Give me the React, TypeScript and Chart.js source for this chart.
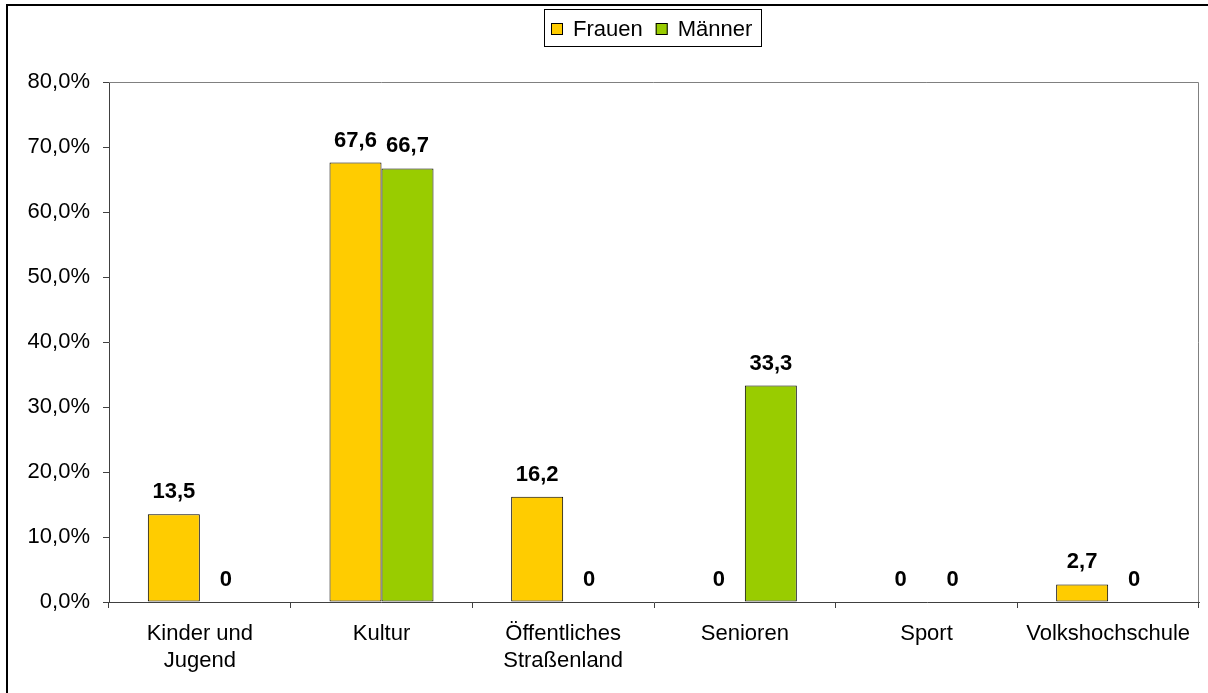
import { useEffect, useRef } from 'react';
import { Chart, registerables } from 'chart.js';

Chart.register(...registerables);

const categories: (string | string[])[] = [
  ['Kinder und', 'Jugend'],
  'Kultur',
  ['Öffentliches', 'Straßenland'],
  'Senioren',
  'Sport',
  'Volkshochschule',
];
const seriesNames = ['Frauen', 'Männer'];
const frauenValues = [13.5, 67.6, 16.2, 0, 0, 2.7];
const maennerValues = [0, 66.7, 0, 33.3, 0, 0];
const seriesColors = ['#FFCC00', '#99CC00'];
const yMin = 0;
const yMax = 80;
const yStep = 10;

const FONT = '"Liberation Sans", Arial, Helvetica, sans-serif';

const fmtLabel = (v: number) => (v === 0 ? '0' : v.toFixed(1).replace('.', ','));
const fmtTick = (v: number) => v.toFixed(1).replace('.', ',') + '%';

const framePlugin = {
  id: 'frame',
  beforeDraw(chart: any) {
    const ctx = chart.ctx;
    ctx.save();
    ctx.fillStyle = '#ffffff';
    ctx.fillRect(0, 0, chart.width, chart.height);
    ctx.strokeStyle = '#000000';
    ctx.lineWidth = 2;
    ctx.strokeRect(7, 5, chart.width + 100, chart.height + 100);
    ctx.restore();
  },
  afterDatasetsDraw(chart: any) {
    const ctx = chart.ctx;
    const a = chart.chartArea;
    ctx.save();
    ctx.strokeStyle = '#808080';
    ctx.lineWidth = 1;
    ctx.beginPath();
    ctx.moveTo(a.left, a.top + 0.5);
    ctx.lineTo(a.right - 0.5, a.top + 0.5);
    ctx.lineTo(a.right - 0.5, a.bottom);
    ctx.stroke();
    ctx.restore();
  },
};

const dataLabelPlugin = {
  id: 'dataLabels',
  afterDatasetsDraw(chart: any) {
    const ctx = chart.ctx;
    ctx.save();
    ctx.fillStyle = '#000000';
    ctx.font = 'bold 22px ' + FONT;
    ctx.textAlign = 'center';
    ctx.textBaseline = 'alphabetic';
    chart.data.datasets.forEach((ds: any, di: number) => {
      const meta = chart.getDatasetMeta(di);
      meta.data.forEach((el: any, i: number) => {
        const v = ds.data[i] as number;
        ctx.fillText(fmtLabel(v), el.x, el.y - 16);
      });
    });
    ctx.restore();
  },
};

const legendPlugin = {
  id: 'customLegend',
  afterDraw(chart: any) {
    const ctx = chart.ctx;
    ctx.save();
    ctx.font = '22px ' + FONT;
    const items = chart.data.datasets.map((ds: any) => ({
      text: ds.label as string,
      color: ds.backgroundColor as string,
      w: ctx.measureText(ds.label).width,
    }));
    const padL = 7;
    const padR = 9;
    const box = 12;
    const gapText = 10;
    const gapItem = 13;
    let total = padL + padR;
    items.forEach((it: any, i: number) => {
      total += box + gapText + it.w + (i > 0 ? gapItem : 0);
    });
    const cx = 653;
    const top = 9;
    const h = 37;
    const left = Math.round(cx - total / 2);
    ctx.strokeStyle = '#000000';
    ctx.lineWidth = 1;
    ctx.strokeRect(left + 0.5, top + 0.5, Math.round(total), h);
    const midY = 29;
    let x = left + padL;
    ctx.textBaseline = 'middle';
    ctx.textAlign = 'left';
    items.forEach((it: any) => {
      ctx.fillStyle = it.color;
      ctx.fillRect(x, midY - 6, box, box);
      ctx.strokeStyle = '#000000';
      ctx.strokeRect(x + 0.5, midY - 5.5, box - 1, box - 1);
      ctx.fillStyle = '#000000';
      ctx.fillText(it.text, x + box + gapText, midY + 1);
      x += box + gapText + it.w + gapItem;
    });
    ctx.restore();
  },
};

export default function App() {
  const ref = useRef<HTMLCanvasElement | null>(null);

  useEffect(() => {
    if (!ref.current) return;
    const chart = new Chart(ref.current, {
      type: 'bar',
      data: {
        labels: categories,
        datasets: [
          {
            label: seriesNames[0],
            data: frauenValues,
            backgroundColor: seriesColors[0],
            borderColor: '#000000',
            borderWidth: 1,
            borderSkipped: false,
            categoryPercentage: 0.5725,
            barPercentage: 1,
          },
          {
            label: seriesNames[1],
            data: maennerValues,
            backgroundColor: seriesColors[1],
            borderColor: '#000000',
            borderWidth: 1,
            borderSkipped: false,
            categoryPercentage: 0.5725,
            barPercentage: 1,
          },
        ],
      },
      options: {
        animation: false,
        responsive: false,
        maintainAspectRatio: false,
        layout: { padding: { top: 82, right: 9, left: 0, bottom: 0 } },
        plugins: {
          legend: { display: false },
          tooltip: { enabled: false },
          title: { display: false },
        },
        scales: {
          x: {
            offset: true,
            grid: {
              offset: true,
              drawOnChartArea: false,
              drawTicks: true,
              tickLength: 6,
              color: '#404040',
            },
            border: { display: true, color: '#404040', width: 1 },
            ticks: {
              color: '#000000',
              font: { family: FONT, size: 22, lineHeight: 1.2 },
              padding: 13,
              maxRotation: 0,
              autoSkip: false,
            },
            afterFit: (scale: any) => {
              scale.height = 91;
            },
          },
          y: {
            min: yMin,
            max: yMax,
            grid: {
              drawOnChartArea: false,
              drawTicks: true,
              tickLength: 6,
              color: '#404040',
            },
            border: { display: true, color: '#404040', width: 1 },
            ticks: {
              stepSize: yStep,
              color: '#000000',
              font: { family: FONT, size: 22 },
              padding: 13,
              callback: (v: any) => fmtTick(Number(v)),
            },
            afterFit: (scale: any) => {
              scale.width = 109;
            },
          },
        },
      },
      plugins: [framePlugin, dataLabelPlugin, legendPlugin],
    });
    return () => chart.destroy();
  }, []);

  return (
    <div style={{ position: 'absolute', left: 0, top: 0, width: 1208, height: 693 }}>
      <canvas ref={ref} width={1208} height={693} style={{ display: 'block' }} />
    </div>
  );
}
